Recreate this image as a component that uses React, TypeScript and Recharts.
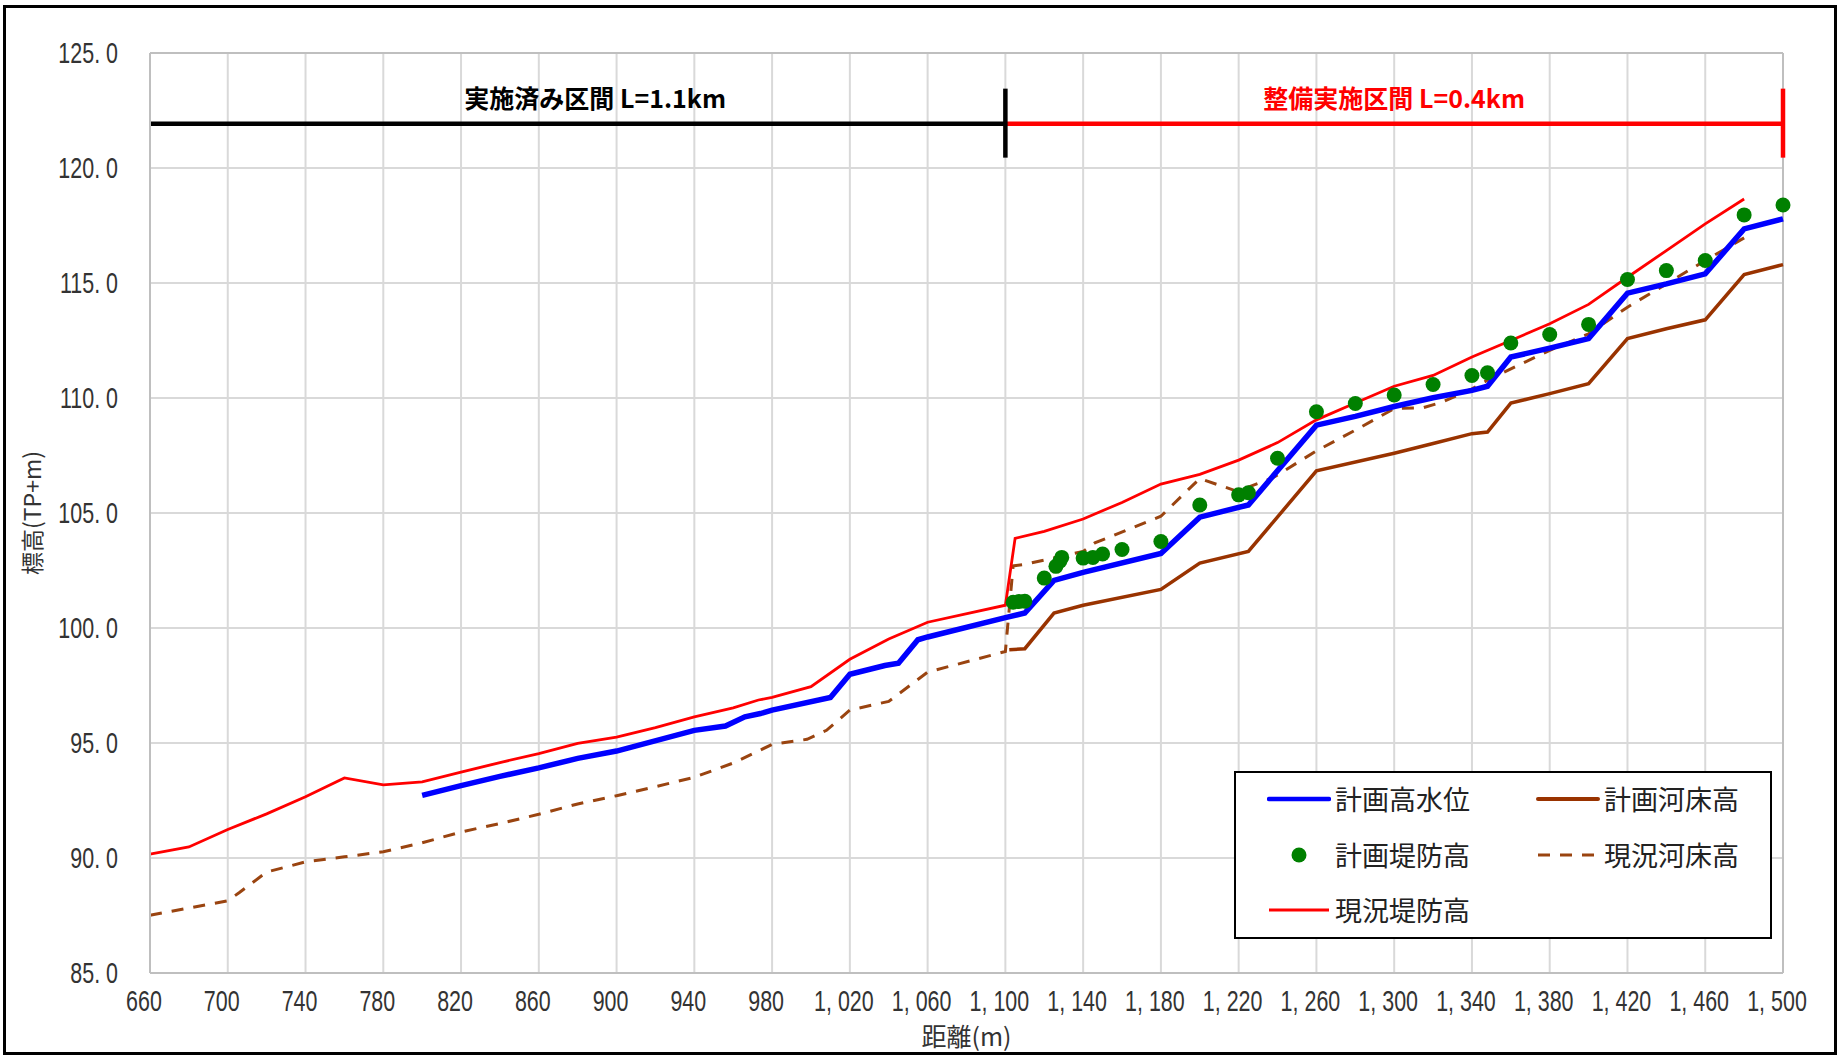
import {
  ComposedChart,
  Line,
  Scatter,
  XAxis,
  YAxis,
  CartesianGrid,
  ReferenceLine,
  ReferenceDot,
  Legend,
  Label,
} from 'recharts';

// 距離 (m) / 標高 (TP+m)
const DISTANCE_TICKS = [
  660, 700, 740, 780, 820, 860, 900, 940, 980, 1020, 1060, 1100, 1140, 1180, 1220, 1260, 1300, 1340,
  1380, 1420, 1460, 1500,
];
const ELEVATION_TICKS = [85, 90, 95, 100, 105, 110, 115, 120, 125];

// 計画高水位
const PLAN_HWL: [number, number][] = [
  [800, 92.72], [820, 93.15], [840, 93.55], [860, 93.92], [880, 94.33], [900, 94.65], [940, 95.55],
  [956, 95.74], [966, 96.14], [974, 96.28], [980, 96.43], [1010, 96.98], [1020, 97.99], [1038, 98.37],
  [1045, 98.47], [1055, 99.49], [1060, 99.61], [1100, 100.45], [1110, 100.65], [1125, 102.07],
  [1140, 102.42], [1180, 103.24], [1200, 104.82], [1225, 105.35], [1260, 108.82], [1280, 109.2],
  [1300, 109.63], [1320, 110.01], [1340, 110.33], [1348, 110.51], [1360, 111.78], [1380, 112.17],
  [1400, 112.58], [1420, 114.56], [1440, 114.96], [1460, 115.4], [1480, 117.35], [1500, 117.79],
];

// 計画河床高
const PLAN_BED: [number, number][] = [
  [1102, 99.05], [1110, 99.1], [1125, 100.65], [1140, 100.99], [1180, 101.68], [1200, 102.82],
  [1225, 103.33], [1260, 106.83], [1300, 107.6], [1320, 108.02], [1340, 108.45], [1348, 108.52],
  [1360, 109.78], [1380, 110.19], [1400, 110.62], [1420, 112.58], [1440, 113.01], [1460, 113.4],
  [1480, 115.37], [1500, 115.8],
];

// 現況河床高
const CURRENT_BED: [number, number][] = [
  [660, 87.51], [700, 88.14], [706, 88.5], [720, 89.39], [740, 89.83], [760, 90.05], [780, 90.27],
  [800, 90.66], [820, 91.13], [840, 91.5], [860, 91.9], [880, 92.35], [900, 92.71], [920, 93.1],
  [940, 93.51], [960, 94.13], [980, 94.94], [998, 95.16], [1008, 95.55], [1020, 96.43], [1040, 96.81],
  [1060, 98.08], [1100, 98.98], [1104, 102.7], [1109, 102.75], [1140, 103.33], [1146, 103.7],
  [1180, 104.86], [1200, 106.5], [1220, 105.92], [1225, 106.13], [1237, 106.5], [1260, 107.7],
  [1280, 108.6], [1300, 109.54], [1315, 109.58], [1325, 109.83], [1340, 110.4], [1348, 110.77],
  [1360, 111.27], [1380, 112.07], [1400, 112.79], [1420, 113.95], [1440, 114.96], [1460, 115.98],
  [1480, 116.96],
];

// 現況堤防高
const CURRENT_LEVEE: [number, number][] = [
  [660, 90.17], [680, 90.48], [700, 91.24], [720, 91.92], [740, 92.66], [760, 93.48], [780, 93.18],
  [800, 93.31], [820, 93.73], [840, 94.15], [860, 94.54], [880, 94.98], [900, 95.26], [920, 95.67],
  [940, 96.14], [960, 96.53], [973, 96.87], [980, 96.98], [1000, 97.45], [1020, 98.64], [1040, 99.52],
  [1060, 100.25], [1100, 100.99], [1105, 103.9], [1120, 104.2], [1140, 104.74], [1160, 105.46],
  [1180, 106.26], [1200, 106.68], [1220, 107.3], [1240, 108.06], [1260, 109.05], [1280, 109.78],
  [1300, 110.51], [1320, 110.98], [1340, 111.78], [1360, 112.5], [1380, 113.23], [1400, 114.07],
  [1420, 115.25], [1440, 116.41], [1460, 117.57], [1480, 118.65],
];

// 計画堤防高
const PLAN_LEVEE: [number, number][] = [
  [1104, 101.12], [1107, 101.15], [1110, 101.16], [1120, 102.17], [1126, 102.68], [1128, 102.9],
  [1129, 103.07], [1140, 103.04], [1145, 103.07], [1150, 103.22], [1160, 103.41], [1180, 103.76],
  [1200, 105.35], [1220, 105.79], [1225, 105.88], [1240, 107.38], [1260, 109.4], [1280, 109.76],
  [1300, 110.13], [1320, 110.59], [1340, 110.98], [1348, 111.1], [1360, 112.39], [1380, 112.76],
  [1400, 113.2], [1420, 115.15], [1440, 115.54], [1460, 115.98], [1480, 117.96], [1500, 118.39],
];

// 区間
const SECTIONS = [
  { from: 660, to: 1100, labelAt: 889, label: '実施済み区間 L=1.1km', color: '#000000' },
  { from: 1100, to: 1500, labelAt: 1300, label: '整備実施区間 L=0.4km', color: '#ff0000' },
];
const SECTION_LEVEL = 121.92;
const SECTION_TICK = [120.45, 123.45];
const SECTION_LABEL_LEVEL = 123.0;

const TICK_FONT = "'Liberation Sans', 'Noto Sans CJK JP', sans-serif";
const JP_FONT = "'Noto Sans CJK JP', 'Noto Sans CJK SC', sans-serif";

const toPoints = (rows: [number, number][]) => rows.map(([x, y]) => ({ x, y }));

const formatDistance = (v: number) =>
  v >= 1000 ? `${Math.floor(v / 1000)}, ${String(v % 1000).padStart(3, '0')}` : String(v);
const formatElevation = (v: number) => v.toFixed(1).replace('.', '. ');

// narrow, tall digits like the original chart font
function NarrowTick(props: any) {
  const { x, y, payload, anchor, dy, format, shift = 0 } = props;
  return (
    <g transform={`translate(${x + shift},${y}) scale(0.74,1)`}>
      <text x={0} y={0} dy={dy} textAnchor={anchor} fill="#333" fontSize={29} fontFamily={TICK_FONT}>
        {format(payload.value)}
      </text>
    </g>
  );
}

function ChartLegend() {
  const item = (left: number, top: number, symbol: JSX.Element, text: string) => (
    <div style={{ position: 'absolute', left, top, height: 30, display: 'flex', alignItems: 'center' }}>
      <svg width={64} height={20} style={{ marginRight: 4 }}>
        {symbol}
      </svg>
      <span style={{ fontFamily: JP_FONT, fontSize: 27, color: '#222', lineHeight: '30px' }}>{text}</span>
    </div>
  );
  return (
    <div
      style={{
        position: 'relative',
        width: 538,
        height: 168,
        border: '2px solid #000',
        background: '#fff',
        boxSizing: 'border-box',
      }}
    >
      {item(31, 11, <line x1={2} x2={62} y1={10} y2={10} stroke="#0000ff" strokeWidth={4.5} strokeLinecap="round" />, '計画高水位')}
      {item(300, 11, <line x1={2} x2={62} y1={10} y2={10} stroke="#993300" strokeWidth={4} strokeLinecap="round" />, '計画河床高')}
      {item(31, 67, <circle cx={32} cy={10} r={7.5} fill="#008000" />, '計画堤防高')}
      {item(300, 67, <line x1={2} x2={62} y1={10} y2={10} stroke="#9a4410" strokeWidth={3} strokeDasharray="12 10" />, '現況河床高')}
      {item(31, 122, <line x1={2} x2={62} y1={10} y2={10} stroke="#ff0000" strokeWidth={3} />, '現況堤防高')}
    </div>
  );
}

export default function App() {
  return (
    <div style={{ position: 'absolute', left: 0, top: 0, width: 1843, height: 1057, background: '#fff' }}>
      <ComposedChart width={1843} height={1057} margin={{ top: 53, right: 60, bottom: 0, left: 0 }}>
        <CartesianGrid stroke="#d9d9d9" strokeWidth={2} />
        <XAxis
          type="number"
          dataKey="x"
          domain={[660, 1500]}
          ticks={DISTANCE_TICKS}
          interval={0}
          height={84}
          tick={(p: any) => <NarrowTick {...p} anchor="middle" dy="0.71em" shift={-6} format={formatDistance} />}
          tickSize={0}
          tickMargin={17}
          axisLine={{ stroke: '#bfbfbf', strokeWidth: 2 }}
        >
          <Label value="距離(m)" position="center" dy={22} fill="#333" fontSize={25} fontFamily={JP_FONT} />
        </XAxis>
        <YAxis
          type="number"
          dataKey="y"
          domain={[85, 125]}
          ticks={ELEVATION_TICKS}
          interval={0}
          width={150}
          tick={(p: any) => <NarrowTick {...p} anchor="end" dy="0.355em" format={formatElevation} />}
          tickSize={0}
          tickMargin={32}
          axisLine={{ stroke: '#bfbfbf', strokeWidth: 2 }}
        >
          <Label value="標高(TP+m)" angle={-90} position="center" dx={-42} fill="#333" fontSize={23} fontFamily={JP_FONT} />
        </YAxis>
        <ReferenceLine y={125} stroke="#bfbfbf" strokeWidth={2} />
        <ReferenceLine x={1500} stroke="#bfbfbf" strokeWidth={2} />

        <Line data={toPoints(PLAN_BED)} dataKey="y" name="計画河床高" stroke="#993300" strokeWidth={3.5} dot={false} activeDot={false} isAnimationActive={false} />
        <Line data={toPoints(CURRENT_BED)} dataKey="y" name="現況河床高" stroke="#9a4410" strokeWidth={3} strokeDasharray="12 10" dot={false} activeDot={false} isAnimationActive={false} />
        <Line data={toPoints(CURRENT_LEVEE)} dataKey="y" name="現況堤防高" stroke="#ff0000" strokeWidth={2.8} dot={false} activeDot={false} isAnimationActive={false} />
        <Line data={toPoints(PLAN_HWL)} dataKey="y" name="計画高水位" stroke="#0000ff" strokeWidth={5.5} dot={false} activeDot={false} isAnimationActive={false} />
        <Scatter
          data={toPoints(PLAN_LEVEE)}
          dataKey="y"
          name="計画堤防高"
          isAnimationActive={false}
          shape={(p: { cx?: number; cy?: number }) => <circle cx={p.cx} cy={p.cy} r={7.5} fill="#008000" />}
        />

        {SECTIONS.map((s) => (
          <ReferenceLine
            key={`h-${s.label}`}
            segment={[{ x: s.from, y: SECTION_LEVEL }, { x: s.to, y: SECTION_LEVEL }]}
            stroke={s.color}
            strokeWidth={4.5}
          />
        ))}
        {SECTIONS.map((s) => (
          <ReferenceLine
            key={`v-${s.label}`}
            segment={[{ x: s.to, y: SECTION_TICK[0] }, { x: s.to, y: SECTION_TICK[1] }]}
            stroke={s.to === 1100 ? '#000000' : s.color}
            strokeWidth={4.5}
          />
        ))}
        {SECTIONS.map((s) => (
          <ReferenceDot
            key={`t-${s.label}`}
            x={s.labelAt}
            y={SECTION_LABEL_LEVEL}
            r={0}
            fill="none"
            stroke="none"
            label={{ value: s.label, position: 'center', fill: s.color, fontSize: 25, fontWeight: 700, fontFamily: JP_FONT }}
          />
        ))}

        <Legend
          layout="vertical"
          align="center"
          verticalAlign="middle"
          content={() => <ChartLegend />}
          wrapperStyle={{ position: 'absolute', left: 1234, top: 771, width: 538, height: 168 }}
        />
      </ComposedChart>
      <div
        style={{
          position: 'absolute',
          left: 3,
          top: 5,
          width: 1834,
          height: 1050,
          border: '3px solid #000',
          boxSizing: 'border-box',
          pointerEvents: 'none',
        }}
      />
    </div>
  );
}
